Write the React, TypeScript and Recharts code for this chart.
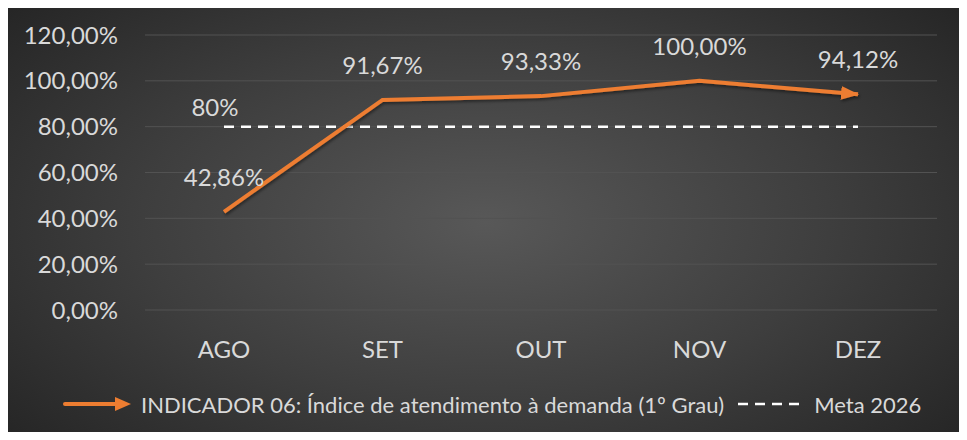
import React from "react";
import {
  LineChart,
  Line,
  XAxis,
  YAxis,
  CartesianGrid,
  Legend,
  LabelList,
} from "recharts";

const months = ["AGO", "SET", "OUT", "NOV", "DEZ"];
const indicador = [42.86, 91.67, 93.33, 100, 94.12];
const meta = [80, 80, 80, 80, 80];
const yTicks = [0, 20, 40, 60, 80, 100, 120];

const SERIES_NAME = "INDICADOR 06: Índice de atendimento à demanda (1º Grau)";
const META_NAME = "Meta 2026";

const ORANGE = "#ED7D31";
const TEXT = "#d9d9d9";
const FONT = "Lato, 'Open Sans', sans-serif";

const data = months.map((m, i) => ({
  month: m,
  indicador: indicador[i],
  meta: meta[i],
}));

const fmtPct = (v: number) => v.toFixed(2).replace(".", ",") + "%";

// only the first point of the goal line carries its label
const MetaLabel = (props: any) => {
  const { x, y, index, value } = props;
  if (index !== 0) return null;
  return (
    <text
      x={x - 9}
      y={y - 11}
      textAnchor="middle"
      fill={TEXT}
      fontSize={24}
      fontFamily={FONT}
    >
      {value}%
    </text>
  );
};

const LegendContent = () => (
  <div
    style={{
      display: "flex",
      alignItems: "center",
      height: 44,
      paddingLeft: 59,
      fontFamily: FONT,
      fontSize: 22,
      color: TEXT,
      whiteSpace: "nowrap",
    }}
  >
    <svg width={68} height={16} style={{ marginRight: 10 }}>
      <line x1={2} y1={8} x2={54} y2={8} stroke={ORANGE} strokeWidth={4} strokeLinecap="round" />
      <path d="M52,1 L68,8 L52,15 Z" fill={ORANGE} />
    </svg>
    <span>{SERIES_NAME}</span>
    <svg width={66} height={10} style={{ marginLeft: 12, marginRight: 12 }}>
      <line x1={2} y1={5} x2={64} y2={5} stroke="#ffffff" strokeWidth={2.5} strokeDasharray="10 7" />
    </svg>
    <span>{META_NAME}</span>
  </div>
);

export default function App() {
  return (
    <div
      style={{
        margin: -8,
        width: 967,
        height: 440,
        background: "#f0f0f0",
        position: "relative",
        overflow: "hidden",
      }}
    >
      <svg width={0} height={0} style={{ position: "absolute" }}>
        <defs>
          <marker
            id="arrowEnd"
            markerUnits="userSpaceOnUse"
            markerWidth={18}
            markerHeight={16}
            refX={17}
            refY={8}
            orient="auto"
          >
            <path d="M0,1 L18,8 L0,15 Z" fill={ORANGE} />
          </marker>
          <filter id="lineShadow" x="-10%" y="-10%" width="120%" height="130%">
            <feDropShadow dx={1} dy={2} stdDeviation={1.5} floodColor="#000" floodOpacity={0.45} />
          </filter>
        </defs>
      </svg>
      <div
        style={{
          position: "absolute",
          left: 4,
          top: 5,
          width: 963,
          height: 435,
          background:
            "radial-gradient(ellipse 65% 75% at 50% 50%, #585858 0%, #3e3e3e 55%, #262626 100%)",
        }}
      >
        <LineChart
          width={963}
          height={435}
          data={data}
          margin={{ top: 30, right: 30, bottom: 0, left: 0 }}
        >
          <CartesianGrid vertical={false} stroke="#525252" strokeWidth={1} />
          <XAxis
            dataKey="month"
            axisLine={false}
            tickLine={false}
            tickSize={0}
            tickMargin={31}
            height={72}
            padding={{ left: 79, right: 79 }}
            tick={{ fill: TEXT, fontSize: 24, fontFamily: FONT }}
          />
          <YAxis
            domain={[0, 120]}
            ticks={yTicks}
            width={141}
            axisLine={false}
            tickLine={false}
            tickSize={0}
            tickMargin={27}
            tickFormatter={fmtPct}
            tick={{ fill: TEXT, fontSize: 24, fontFamily: FONT }}
          />
          <Line
            dataKey="meta"
            name={META_NAME}
            stroke="#ffffff"
            strokeWidth={2.5}
            strokeDasharray="10 7"
            dot={false}
            activeDot={false}
            isAnimationActive={false}
          >
            <LabelList dataKey="meta" content={MetaLabel} />
          </Line>
          <Line
            dataKey="indicador"
            name={SERIES_NAME}
            type="linear"
            stroke={ORANGE}
            strokeWidth={4}
            dot={false}
            activeDot={false}
            markerEnd="url(#arrowEnd)"
            filter="url(#lineShadow)"
            isAnimationActive={false}
          >
            <LabelList
              dataKey="indicador"
              position="top"
              offset={26}
              formatter={(v: any) => fmtPct(Number(v))}
              style={{ fill: TEXT, fontSize: 24, fontFamily: FONT }}
            />
          </Line>
          <Legend
            verticalAlign="bottom"
            align="left"
            height={58}
            content={LegendContent}
          />
        </LineChart>
      </div>
    </div>
  );
}
